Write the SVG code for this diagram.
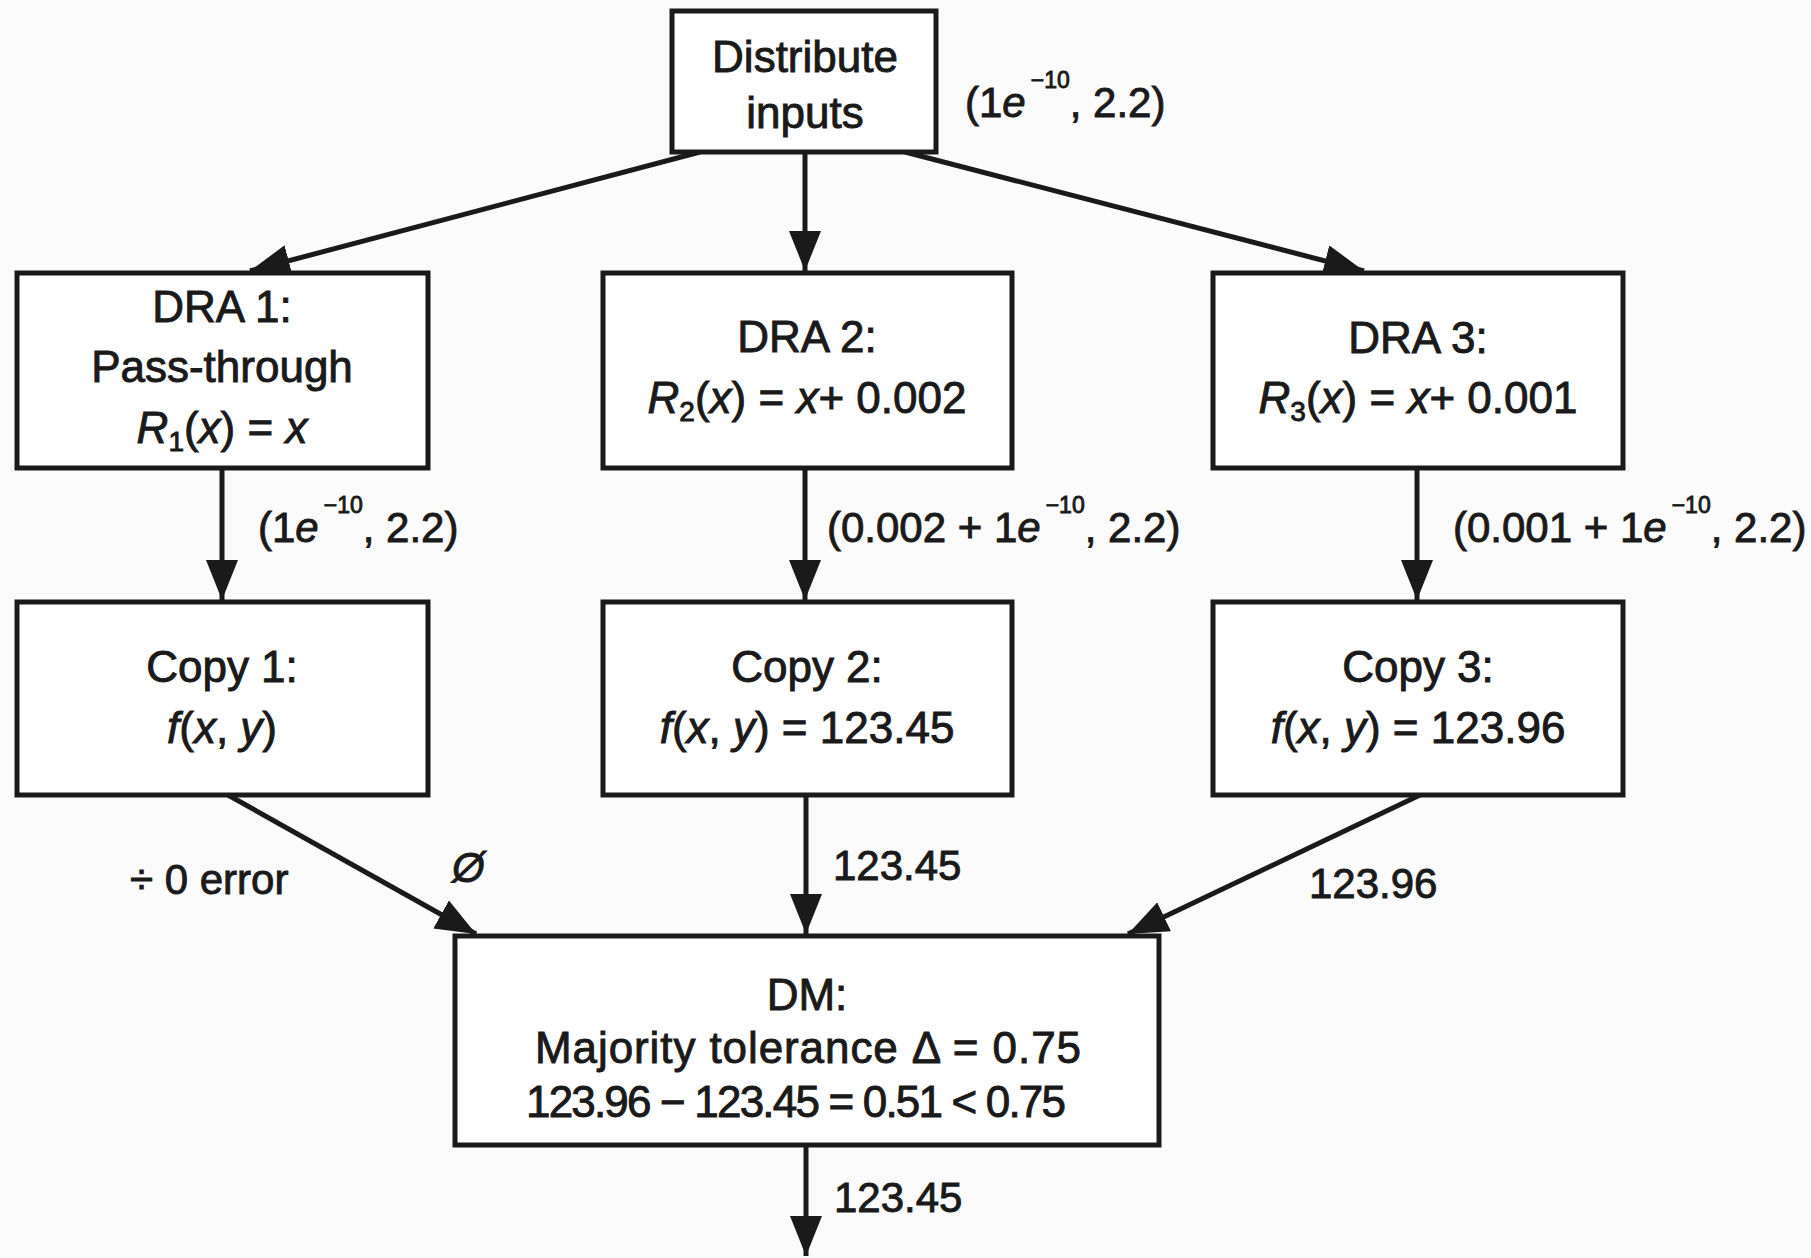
<svg xmlns="http://www.w3.org/2000/svg" width="1811" height="1258" viewBox="0 0 1811 1258">
<style>
  .box { fill: #ffffff; stroke: #1a1a1a; stroke-width: 5; }
  .t { font-family: "Liberation Sans", Arial, sans-serif; font-size: 44px; fill: #1a1a1a; stroke: #1a1a1a; stroke-width: 0.9px; text-anchor: middle; }
  .lbl { font-family: "Liberation Sans", Arial, sans-serif; font-size: 42px; fill: #1a1a1a; stroke: #1a1a1a; stroke-width: 0.9px; }
  .i { font-style: italic; }
  .conn { stroke: #1a1a1a; stroke-width: 5; fill: none; marker-end: url(#arr); }
</style>
<defs>
  <marker id="arr" markerUnits="userSpaceOnUse" markerWidth="42" markerHeight="32" refX="40" refY="16" orient="auto">
    <path d="M0,0 L40,16 L0,32 z" fill="#1a1a1a"/>
  </marker>
</defs>
<rect width="1811" height="1258" fill="#fbfbfb"/>

<g id="connectors">
  <line class="conn" x1="700" y1="152" x2="250" y2="271"/>
  <line class="conn" x1="805" y1="152" x2="805" y2="271"/>
  <line class="conn" x1="905" y1="152" x2="1364" y2="271"/>
  <line class="conn" x1="222" y1="468" x2="222" y2="600"/>
  <line class="conn" x1="805" y1="468" x2="805" y2="600"/>
  <line class="conn" x1="1417" y1="468" x2="1417" y2="600"/>
  <line class="conn" x1="228" y1="795" x2="476" y2="934"/>
  <line class="conn" x1="806" y1="795" x2="806" y2="934"/>
  <line class="conn" x1="1420" y1="795" x2="1128" y2="934"/>
  <line class="conn" x1="806" y1="1145" x2="806" y2="1256"/>
</g>

<g id="labels">
  <text class="lbl" x="965" y="117">(1<tspan class="i">e</tspan><tspan font-size="23" dy="-29" dx="5">−10</tspan><tspan dy="29">, 2.2)</tspan></text>
  <text class="lbl" x="258" y="542">(1<tspan class="i">e</tspan><tspan font-size="23" dy="-29" dx="5">−10</tspan><tspan dy="29">, 2.2)</tspan></text>
  <text class="lbl" x="827" y="542">(0.002 + 1<tspan class="i">e</tspan><tspan font-size="23" dy="-29" dx="5">−10</tspan><tspan dy="29">, 2.2)</tspan></text>
  <text class="lbl" x="1453" y="542">(0.001 + 1<tspan class="i">e</tspan><tspan font-size="23" dy="-29" dx="5">−10</tspan><tspan dy="29">, 2.2)</tspan></text>
  <text class="lbl" x="130" y="894">÷ 0 error</text>
  <text class="lbl" x="452" y="882" font-style="italic">Ø</text>
  <text class="lbl" x="833" y="880">123.45</text>
  <text class="lbl" x="1309" y="898">123.96</text>
  <text class="lbl" x="834" y="1212">123.45</text>
</g>

<g id="distribute">
  <rect class="box" x="672" y="11" width="264" height="141"/>
  <text class="t" x="805" y="72">Distribute</text>
  <text class="t" x="805" y="128">inputs</text>
</g>

<g id="dra1">
  <rect class="box" x="17" y="273" width="411" height="195"/>
  <text class="t" x="222" y="322">DRA 1:</text>
  <text class="t" x="222" y="382">Pass-through</text>
  <text class="t" x="222" y="443"><tspan class="i">R</tspan><tspan font-size="28" dy="8">1</tspan><tspan dy="-8">(</tspan><tspan class="i">x</tspan>) = <tspan class="i">x</tspan></text>
</g>

<g id="dra2">
  <rect class="box" x="603" y="273" width="409" height="195"/>
  <text class="t" x="807" y="352">DRA 2:</text>
  <text class="t" x="807" y="413"><tspan class="i">R</tspan><tspan font-size="28" dy="8">2</tspan><tspan dy="-8">(</tspan><tspan class="i">x</tspan>) = <tspan class="i">x</tspan>+ 0.002</text>
</g>

<g id="dra3">
  <rect class="box" x="1213" y="273" width="410" height="195"/>
  <text class="t" x="1418" y="353">DRA 3:</text>
  <text class="t" x="1418" y="413"><tspan class="i">R</tspan><tspan font-size="28" dy="8">3</tspan><tspan dy="-8">(</tspan><tspan class="i">x</tspan>) = <tspan class="i">x</tspan>+ 0.001</text>
</g>

<g id="copy1">
  <rect class="box" x="17" y="602" width="411" height="193"/>
  <text class="t" x="222" y="682">Copy 1:</text>
  <text class="t" x="222" y="743"><tspan class="i">f</tspan>(<tspan class="i">x</tspan>, <tspan class="i">y</tspan>)</text>
</g>

<g id="copy2">
  <rect class="box" x="603" y="602" width="409" height="193"/>
  <text class="t" x="807" y="682">Copy 2:</text>
  <text class="t" x="807" y="743"><tspan class="i">f</tspan>(<tspan class="i">x</tspan>, <tspan class="i">y</tspan>) = 123.45</text>
</g>

<g id="copy3">
  <rect class="box" x="1213" y="602" width="410" height="193"/>
  <text class="t" x="1418" y="682">Copy 3:</text>
  <text class="t" x="1418" y="743"><tspan class="i">f</tspan>(<tspan class="i">x</tspan>, <tspan class="i">y</tspan>) = 123.96</text>
</g>

<g id="dm">
  <rect class="box" x="455" y="936" width="704" height="209"/>
  <text class="t" x="807" y="1010">DM:</text>
  <text class="t" x="808" y="1063" textLength="546" lengthAdjust="spacing">Majority tolerance Δ = 0.75</text>
  <text class="t" x="796" y="1117" textLength="540" lengthAdjust="spacing">123.96 − 123.45 = 0.51 &lt; 0.75</text>
</g>
</svg>
